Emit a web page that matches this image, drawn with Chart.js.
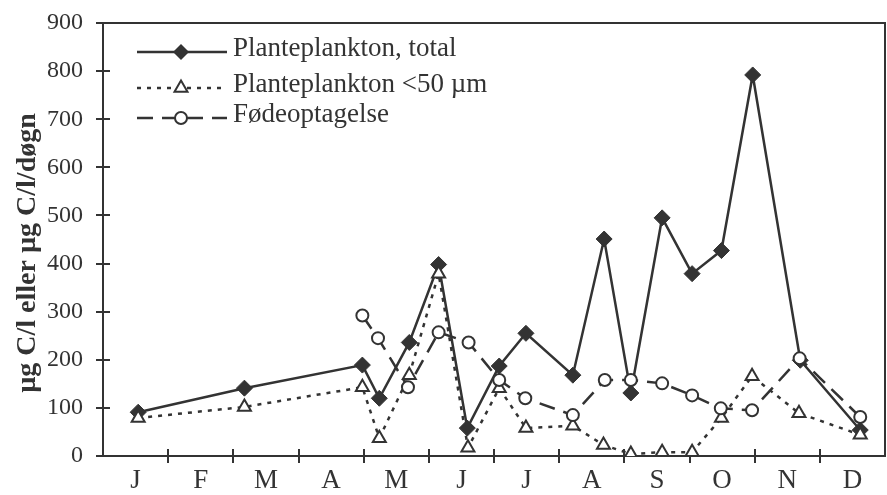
<!DOCTYPE html>
<html>
<head>
<meta charset="utf-8">
<script src="https://cdn.jsdelivr.net/npm/chart.js@4.4.1/dist/chart.umd.min.js"></script>
<style>
    html, body { margin: 0; padding: 0; background: #fff; }
    #wrap { width: 887px; height: 495px; }
</style>
</head>
<body>
<div id="wrap"><canvas id="chart" width="887" height="495"></canvas></div>
<script>
let months = ['J', 'F', 'M', 'A', 'M', 'J', 'J', 'A', 'S', 'O', 'N', 'D'];
let yTicks = [0, 100, 200, 300, 400, 500, 600, 700, 800, 900];

// sampling dates in months from 1 January
let totalDates = [0.54, 2.17, 3.98, 4.24, 4.70, 5.15, 5.59, 6.08, 6.49, 7.21, 7.69, 8.10, 8.58, 9.04, 9.49, 9.97, 10.70, 11.62];
let totalValues = [91, 141, 189, 120, 236, 398, 58, 187, 255, 168, 451, 131, 495, 379, 427, 792, 199, 54];

let smallDates = [0.54, 2.17, 3.98, 4.24, 4.70, 5.15, 5.60, 6.08, 6.49, 7.21, 7.68, 8.10, 8.58, 9.04, 9.49, 9.96, 10.68, 11.62];
let smallValues = [79, 102, 143, 37, 168, 379, 17, 141, 58, 63, 23, 4, 8, 8, 79, 166, 89, 44];

let foodDates = [3.98, 4.22, 4.68, 5.15, 5.61, 6.08, 6.48, 7.21, 7.70, 8.10, 8.58, 9.04, 9.48, 9.96, 10.69, 11.62];
let foodValues = [292, 245, 143, 257, 236, 158, 120, 85, 158, 158, 151, 126, 99, 95, 203, 81];

let ink = '#333333';
let serif = "'Liberation Serif', 'Times New Roman', serif";

function points(dates, values) {
    return dates.map((d, i) => ({ x: d, y: values[i] }));
}

// small marker shapes for the legend
function drawMarker(ctx, style, x, y) {
    ctx.beginPath();
    if (style === 'rectRot') {
        ctx.moveTo(x, y - 8); ctx.lineTo(x + 8, y); ctx.lineTo(x, y + 8); ctx.lineTo(x - 8, y);
        ctx.closePath();
        ctx.fillStyle = ink; ctx.fill();
    } else if (style === 'triangle') {
        let r = 7.5;
        ctx.moveTo(x, y - r);
        ctx.lineTo(x + r * 0.866, y + r / 2);
        ctx.lineTo(x - r * 0.866, y + r / 2);
        ctx.closePath();
        ctx.fillStyle = '#fff'; ctx.fill(); ctx.stroke();
    } else {
        ctx.arc(x, y, 6, 0, Math.PI * 2);
        ctx.fillStyle = '#fff'; ctx.fill(); ctx.stroke();
    }
}

let frame = {
    id: 'frame',
    beforeDatasetsDraw(chart) {
        let { ctx, chartArea, scales } = chart;
        ctx.save();
        ctx.strokeStyle = ink;
        ctx.lineWidth = 2;
        ctx.beginPath();
        ctx.moveTo(chartArea.left, chartArea.top);
        ctx.lineTo(chartArea.right, chartArea.top);
        ctx.lineTo(chartArea.right, chartArea.bottom);
        // tick marks crossing the axes
        yTicks.forEach(v => {
            let y = Math.round(scales.y.getPixelForValue(v));
            ctx.moveTo(chartArea.left - 7, y);
            ctx.lineTo(chartArea.left + 7, y);
        });
        for (let m = 1; m < 12; m++) {
            let x = Math.round(scales.x.getPixelForValue(m));
            ctx.moveTo(x, chartArea.bottom - 7);
            ctx.lineTo(x, chartArea.bottom + 7);
        }
        ctx.stroke();
        ctx.restore();
    },
    afterDraw(chart) {
        let ctx = chart.ctx;
        ctx.save();
        // y axis title
        ctx.translate(28, 253);
        ctx.rotate(-Math.PI / 2);
        ctx.font = 'bold 28px ' + serif;
        ctx.fillStyle = ink;
        ctx.textAlign = 'center';
        ctx.textBaseline = 'middle';
        ctx.fillText('\u00b5g C/l eller \u00b5g C/l/d\u00f8gn', 0, 0);
        ctx.restore();

        // legend: line sample with marker, then label
        let rows = [52, 88, 118];
        chart.data.datasets.forEach((ds, i) => {
            let y = rows[i];
            ctx.save();
            ctx.strokeStyle = ink;
            ctx.lineWidth = ds.borderWidth;
            ctx.setLineDash(ds.borderDash || []);
            ctx.beginPath();
            ctx.moveTo(137, y);
            ctx.lineTo(227, y);
            ctx.stroke();
            ctx.setLineDash([]);
            ctx.lineWidth = 2;
            drawMarker(ctx, ds.pointStyle, 181, y);
            ctx.fillStyle = ink;
            ctx.font = '27px ' + serif;
            ctx.textBaseline = 'alphabetic';
            ctx.fillText(ds.label, 233, y + 4);
            ctx.restore();
        });
    }
};

let chart = new Chart(document.getElementById('chart'), {
    type: 'line',
    data: {
        datasets: [{
            label: 'Planteplankton, total',
            data: points(totalDates, totalValues),
            borderColor: ink,
            borderWidth: 2.5,
            pointStyle: 'rectRot',
            pointRadius: 8,
            pointBackgroundColor: ink,
            pointBorderColor: ink,
            pointBorderWidth: 1,
            order: 3
        }, {
            label: 'Planteplankton <50 \u00b5m',
            data: points(smallDates, smallValues),
            borderColor: ink,
            borderWidth: 2.5,
            borderDash: [4, 6],
            pointStyle: 'triangle',
            pointRadius: 7.5,
            pointBackgroundColor: '#fff',
            pointBorderColor: ink,
            pointBorderWidth: 2,
            order: 2
        }, {
            label: 'F\u00f8deoptagelse',
            data: points(foodDates, foodValues),
            borderColor: ink,
            borderWidth: 2.5,
            borderDash: [16, 9],
            pointStyle: 'circle',
            pointRadius: 6,
            pointBackgroundColor: '#fff',
            pointBorderColor: ink,
            pointBorderWidth: 2,
            order: 1
        }]
    },
    options: {
        responsive: false,
        animation: false,
        devicePixelRatio: 1,
        layout: {
            autoPadding: false,
            padding: { top: 23, right: 2, left: 0, bottom: 0 }
        },
        plugins: {
            legend: { display: false },
            tooltip: { enabled: false }
        },
        scales: {
            x: {
                type: 'linear',
                min: 0,
                max: 12,
                afterBuildTicks: scale => {
                    scale.ticks = months.map((m, i) => ({ value: i + 0.5 }));
                },
                afterFit: scale => {
                    scale.height = 39;
                    scale.paddingLeft = 0;
                    scale.paddingRight = 0;
                },
                grid: { display: false, drawTicks: false },
                border: { display: true, color: ink, width: 2 },
                ticks: {
                    autoSkip: false,
                    maxRotation: 0,
                    padding: 9,
                    color: ink,
                    font: { family: serif, size: 27 },
                    callback: (value, index) => months[index]
                }
            },
            y: {
                min: 0,
                max: 900,
                afterFit: scale => {
                    scale.width = 103;
                    scale.paddingTop = 0;
                    scale.paddingBottom = 0;
                },
                grid: { display: false, drawTicks: false },
                border: { display: true, color: ink, width: 2 },
                ticks: {
                    stepSize: 100,
                    padding: 20,
                    color: ink,
                    font: { family: serif, size: 24 }
                }
            }
        }
    },
    plugins: [frame]
});
</script>
</body>
</html>
